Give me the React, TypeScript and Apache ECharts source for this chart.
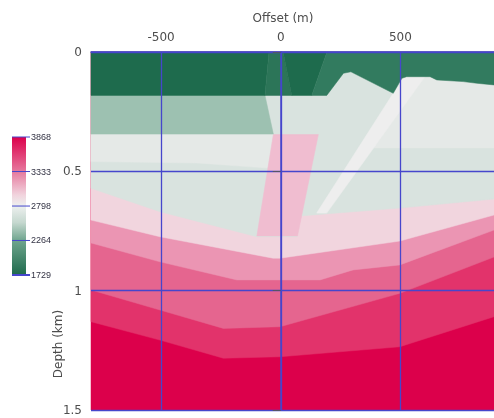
import React, { useEffect, useRef } from "react";
import * as echarts from "echarts";

// ---- axes ----
const OFFSET_MIN = -793;
const OFFSET_MAX = 891;
const DEPTH_MIN = 0;
const DEPTH_MAX = 1.5;
const DEPTH_STEP = 0.5;
const offsetTicks = [-500, 0, 500];

// ---- colour bar (m/s) ----
const colorbarTicks = [3868, 3333, 2798, 2264, 1729];

// ---- interfaces: [offset (m), depth (km)] ----
const interface1 = [[-793, 0.571], [-505, 0.669], [-100, 0.774], [68, 0.774], [81, 0.687], [498, 0.654], [891, 0.616]];
const interface2 = [[-793, 0.704], [-505, 0.774], [-32, 0.864], [-3, 0.864], [498, 0.792], [891, 0.683]];
const interface3 = [[-793, 0.8], [-505, 0.879], [-183, 0.955], [164, 0.955], [302, 0.913], [498, 0.892], [891, 0.746]];
const interface4 = [[-793, 0.997], [-505, 1.081], [-240, 1.158], [-3, 1.151], [498, 1.011], [891, 0.859]];
const interface5 = [[-793, 1.13], [-505, 1.207], [-240, 1.283], [-3, 1.277], [498, 1.235], [891, 1.109]];

// ---- bodies: [offset (m), depth (km)] ----
const layer3Left = [[-793, 0.344], [-31, 0.344], [-54, 0.486], [-350, 0.465], [-793, 0.459]];
const rightLight = [[677, 0], [891, 0], [891, 0.402], [388, 0.402]];
const stripe = [[580, 0], [677, 0], [192, 0.675], [150, 0.675]];
const pinkBlock = [[-31, 0.346], [157, 0.346], [70, 0.771], [-100, 0.771]];
const layer2Left = [[-793, 0.182], [-66, 0.182], [-31, 0.344], [-793, 0.344]];
const layer1Left = [[-793, 0], [-49, 0], [-66, 0.182], [-793, 0.182]];
const wedge = [[-49, 0], [10, 0], [46, 0.182], [-66, 0.182]];
const vBlock = [[10, 0], [193, 0], [129.5, 0.182], [46, 0.182]];
const rightGreen = [[193, 0], [891, 0], [891, 0.138], [819, 0.131], [762, 0.124], [652, 0.117], [624, 0.1035], [526, 0.1035], [506, 0.11], [470, 0.173], [293, 0.083], [262, 0.089], [192, 0.182], [129.5, 0.182]];

const C = {
  crimson: "#dc004b",
  deep: "#e2336b",
  strong: "#e5658f",
  light: "#eb95b3",
  pale: "#f1d5de",
  greyGreen: "#d9e3df",
  lightGrey: "#e5e9e7",
  stripe: "#eeeeee",
  pinkBlock: "#f0bdd0",
  paleGreen: "#9dc1b1",
  darkGreen: "#1e6b4d",
  wedge: "#2c7558",
  rightGreen: "#327b5f",
};

const above = (b: number[][]) => [[OFFSET_MIN, DEPTH_MIN], ...b, [OFFSET_MAX, DEPTH_MIN]];
const full = [[OFFSET_MIN, DEPTH_MIN], [OFFSET_MAX, DEPTH_MIN], [OFFSET_MAX, DEPTH_MAX], [OFFSET_MIN, DEPTH_MAX]];

const shapes: { pts: number[][]; color: string }[] = [
  { pts: full, color: C.crimson },
  { pts: above(interface5), color: C.deep },
  { pts: above(interface4), color: C.strong },
  { pts: above(interface3), color: C.light },
  { pts: above(interface2), color: C.pale },
  { pts: above(interface1), color: C.greyGreen },
  { pts: layer3Left, color: C.lightGrey },
  { pts: rightLight, color: C.lightGrey },
  { pts: stripe, color: C.stripe },
  { pts: pinkBlock, color: C.pinkBlock },
  { pts: layer2Left, color: C.paleGreen },
  { pts: layer1Left, color: C.darkGreen },
  { pts: wedge, color: C.wedge },
  { pts: vBlock, color: C.darkGreen },
  { pts: rightGreen, color: C.rightGreen },
];

const FONT = "DejaVu Sans";
const TEXT = "#4d4d4d";
const BLUE = "#4646cc";

export default function App() {
  const ref = useRef<HTMLDivElement>(null);
  useEffect(() => {
    if (!ref.current) return;
    const chart = echarts.init(ref.current, undefined, { renderer: "svg" });

    const cbX = 12, cbY = 137, cbW = 14, cbH = 138;
    const vMax = colorbarTicks[0];
    const vMin = colorbarTicks[colorbarTicks.length - 1];
    const cbElems: any[] = [
      {
        type: "rect",
        shape: { x: cbX, y: cbY, width: cbW, height: cbH },
        style: {
          fill: new echarts.graphic.LinearGradient(0, 0, 0, 1, [
            { offset: 0, color: "#dc004b" },
            { offset: 0.25, color: "#e6799e" },
            { offset: 0.42, color: "#f1d3dd" },
            { offset: 0.5, color: "#edf0ef" },
            { offset: 0.62, color: "#c5d8cf" },
            { offset: 0.75, color: "#6fa58e" },
            { offset: 1, color: "#1e6a4c" },
          ]),
        },
      },
    ];
    colorbarTicks.forEach((v, i) => {
      const y = cbY + ((vMax - v) / (vMax - vMin)) * cbH;
      cbElems.push({
        type: "line",
        shape: { x1: cbX, y1: y, x2: cbX + cbW + 4, y2: y },
        style: { stroke: BLUE, lineWidth: i === colorbarTicks.length - 1 ? 2 : 1 },
      });
      cbElems.push({
        type: "text",
        x: cbX + cbW + 5,
        y: y,
        style: {
          text: String(v),
          fontSize: 9,
          fontFamily: "Liberation Sans",
          fill: "#333344",
          verticalAlign: "middle",
          align: "left",
        },
      });
    });

    chart.setOption({
      animation: false,
      grid: { left: 91, right: 0, top: 52, bottom: 8, containLabel: false },
      xAxis: {
        type: "value",
        position: "top",
        min: OFFSET_MIN,
        max: OFFSET_MAX,
        z: 10,
        axisLine: { show: true, lineStyle: { color: BLUE, width: 1.5 } },
        axisTick: { show: false, customValues: offsetTicks },
        axisLabel: {
          customValues: offsetTicks,
          margin: 9,
          fontSize: 12,
          fontFamily: FONT,
          color: TEXT,
        },
        splitLine: { show: false },
      },
      yAxis: {
        type: "value",
        inverse: true,
        min: DEPTH_MIN,
        max: DEPTH_MAX,
        interval: DEPTH_STEP,
        z: 10,
        axisLine: { show: true, lineStyle: { color: BLUE, width: 1.5 } },
        axisTick: { show: true, length: 8, lineStyle: { color: "#555566" } },
        axisLabel: { margin: 9, fontSize: 12, fontFamily: FONT, color: TEXT },
        splitLine: { show: true, lineStyle: { color: BLUE, width: 1.3 } },
      },
      graphic: [
        {
          type: "text",
          x: 283,
          y: 18,
          style: { text: "Offset (m)", fontSize: 12, fontFamily: FONT, fill: TEXT, align: "center", verticalAlign: "middle" },
        },
        {
          type: "text",
          x: 58,
          y: 344,
          rotation: Math.PI / 2,
          style: { text: "Depth (km)", fontSize: 12, fontFamily: FONT, fill: TEXT, align: "center", verticalAlign: "middle" },
        },
        ...cbElems,
      ],
      series: [
        {
          type: "custom",
          coordinateSystem: "cartesian2d",
          z: 2,
          silent: true,
          data: shapes.map((s, i) => [s.pts[0][0], s.pts[0][1], i]),
          encode: { x: 0, y: 1 },
          renderItem: (params: any, api: any) => {
            const s = shapes[params.dataIndex];
            return {
              type: "polygon",
              shape: { points: s.pts.map((p) => api.coord(p)) },
              style: { fill: s.color, stroke: s.color, lineWidth: 0.5 },
            };
          },
          markLine: {
            silent: true,
            symbol: "none",
            label: { show: false },
            z: 9,
            lineStyle: { color: BLUE, width: 1.3, type: "solid" },
            emphasis: { disabled: true },
            data: offsetTicks.map((v) => ({ xAxis: v })),
          },
        },
      ],
    });
    return () => chart.dispose();
  }, []);
  return <div ref={ref} style={{ position: "fixed", left: 0, top: 0, width: 494, height: 418 }} />;
}
